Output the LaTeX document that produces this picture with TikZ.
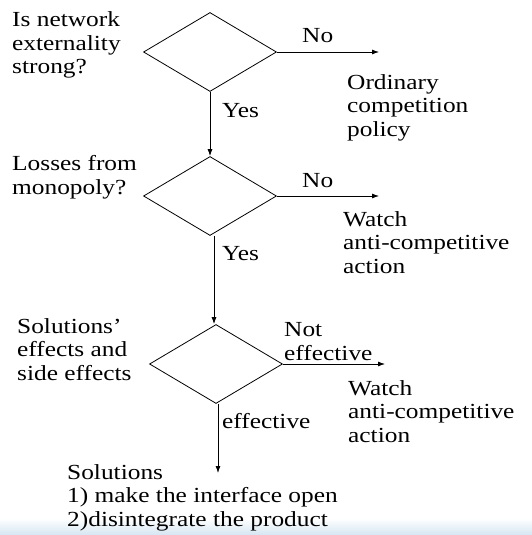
\documentclass[tikz,border=0pt]{standalone}
\usepackage{fontspec}
\setmainfont[FakeStretch=1.18]{Liberation Serif}
\usetikzlibrary{shapes.geometric,arrows.meta}
\definecolor{bandblue}{RGB}{214,230,242}
\begin{document}
\begin{tikzpicture}[x=1pt,y=-1pt,
  txt/.style={anchor=base west,inner sep=0pt,align=left,font=\fontsize{21.5}{23.5}\selectfont},
  dia/.style={draw,diamond,minimum width=133pt,minimum height=79pt,inner sep=0pt,line width=0.8pt},
  arr/.style={line width=0.8pt,-{Latex[length=7pt,width=5pt]}}]
\useasboundingbox (0,0) rectangle (532,535);
\shade[top color=white,bottom color=bandblue] (0,518) rectangle (532,535);
% first decision (anchors are at the baseline of the last line)
\node[txt] (q1) at (12,74) {Is network\\externality\\strong?};
\node[dia] (d1) at (210,52) {};
\coordinate (e1) at (379,52);
\node[txt] (no1) at (302,43) {No};
\node[txt] (yes1) at (222,117) {Yes};
\node[txt] (ord) at (347,136) {Ordinary\\competition\\policy};
% second decision
\node[txt] (q2) at (12,194) {Losses from\\monopoly?};
\node[dia] (d2) at (210,196) {};
\coordinate (e2) at (379,196);
\node[txt] (no2) at (302,187) {No};
\node[txt] (yes2) at (222,260) {Yes};
\node[txt] (w1) at (343,273) {Watch\\anti-competitive\\action};
% third decision
\node[txt] (q3) at (17,380) {Solutions’\\effects and\\side effects};
\node[dia] (d3) at (216,364) {};
\coordinate (e3) at (385,364);
\node[txt] (ne) at (284,360) {Not\\effective};
\node[txt] (w2) at (348,442) {Watch\\anti-competitive\\action};
\node[txt] (eff) at (222,428) {effective};
\coordinate (e4) at (218,473);
\coordinate (m2) at (214,0);
\node[txt] (sol) at (67,526) {Solutions\\1) make the interface open\\2)disintegrate the product};
% connectors
\draw[arr] (d1.east) -- (e1);
\draw[arr] (d1.south) -- (d2.north);
\draw[arr] (d2.east) -- (e2);
\draw[arr] (m2 |- d2.south) -- (m2 |- d3.north);
\draw[arr] (d3.east) -- (e3);
\draw[arr] (e4 |- d3.south) -- (e4);
\end{tikzpicture}
\end{document}
